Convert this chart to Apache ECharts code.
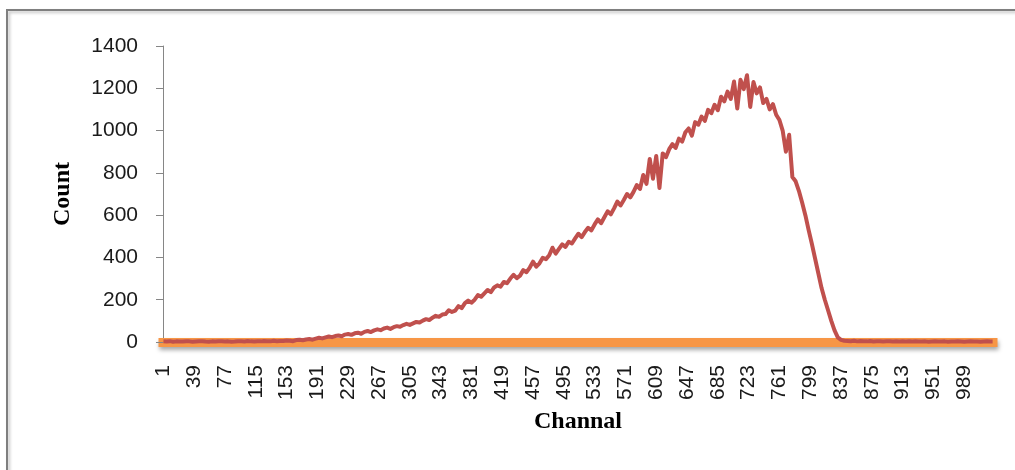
<!DOCTYPE html>
<html>
<head>
<meta charset="utf-8">
<script src="https://cdn.jsdelivr.net/npm/echarts@6/dist/echarts.min.js"></script>
<style>
  html, body { margin: 0; padding: 0; background: #ffffff; }
  #chart { width: 1015px; height: 470px; }
</style>
</head>
<body>
<div id="chart"></div>
<script>
// Spectrum channels 1..1024 (category axis)
const channels = [];
for (let c = 1; c <= 1024; c++) channels.push(String(c));

// Channels at which the count was recorded (every 4th channel, plus the last one)
const sampleChannels = [];
for (let c = 1; c <= 1021; c += 4) sampleChannels.push(c);
sampleChannels.push(1024);

// Counts per sampled channel
const counts = [
  // channels 1 - 145
  3, 2, 4, 1, 3, 2, 2, 4, 3, 1, 2, 3, 4, 2, 1, 3, 2, 4, 3, 2,
  3, 1, 2, 4, 3, 2, 5, 3, 2, 4, 3, 5, 4, 3, 6, 4, 5,
  // channels 149 - 345
  5, 7, 6, 4, 9, 11, 8, 12, 14, 11,
  16, 20, 17, 22, 26, 23, 28, 31, 27, 35,
  38, 34, 41, 44, 39, 48, 52, 47, 55, 60,
  56, 64, 68, 62, 70, 75, 72, 80, 86, 81,
  88, 95, 92, 101, 108, 104, 115, 124, 119, 130,
  // channels 349 - 445
  132, 150, 142, 148, 170, 160, 184, 196, 186, 200, 222, 214, 230,
  246, 236, 258, 268, 262, 284, 278, 300, 318, 302, 314, 340,
  // channels 449 - 545
  330, 352, 380, 356, 372, 398, 392, 410, 446, 418, 440, 462, 450,
  474, 466, 490, 512, 496, 520, 540, 528, 556, 580, 562, 590,
  // channels 549 - 645
  618, 604, 632, 664, 646, 672, 700, 684, 710, 742, 724, 790, 748,
  866, 772, 880, 728, 892, 874, 912, 936, 918, 962, 948, 992,
  // channels 649 - 745
  1010, 976, 1040, 1028, 1066, 1046, 1098, 1082, 1122, 1096, 1160, 1138, 1184,
  1150, 1232, 1104, 1240, 1196, 1262, 1112, 1230, 1176, 1204, 1130, 1150,
  // channels 749 - 845
  1100, 1125, 1075, 1050, 1000, 900, 980, 780, 760, 715, 660, 600, 530,
  465, 395, 325, 255, 200, 150, 100, 55, 22, 10, 6, 5,
  // channels 849 - 1021
  4, 6, 3, 5, 4, 3, 5, 2, 4, 3, 2, 3, 4, 2, 3, 2, 3, 2, 4, 2,
  3, 2, 2, 3, 1, 2, 3, 2, 2, 3, 1, 2, 2, 3, 2, 1, 2, 3, 2, 2,
  1, 2, 3, 2,
  // channel 1024
  2
];

const spectrum = sampleChannels.map((c, i) => [String(c), counts[i]]);

const chart = echarts.init(document.getElementById('chart'), null, { renderer: 'canvas' });

chart.setOption({
  backgroundColor: '#ffffff',
  animation: false,
  graphic: [{
    type: 'rect',
    shape: { x: 7, y: 10, width: 1030, height: 490 },
    style: {
      fill: 'none',
      stroke: '#7f7f7f',
      lineWidth: 2,
      shadowColor: 'rgba(0,0,0,0.25)',
      shadowBlur: 3,
      shadowOffsetX: 2,
      shadowOffsetY: 2
    },
    z: 0
  }],
  grid: { left: 163, right: 22, top: 46, bottom: 128, containLabel: false },
  xAxis: {
    type: 'category',
    data: channels,
    boundaryGap: true,
    offset: 4,
    name: 'Channal',
    nameLocation: 'middle',
    nameGap: 64,
    nameTextStyle: {
      fontFamily: 'Liberation Serif',
      fontWeight: 'bold',
      fontSize: 24,
      color: '#000000'
    },
    axisLine: {
      show: true,
      lineStyle: {
        color: '#F79646',
        width: 9,
        cap: 'square',
        shadowColor: 'rgba(0,0,0,0.35)',
        shadowBlur: 4,
        shadowOffsetX: 1,
        shadowOffsetY: 3
      }
    },
    axisTick: { show: false },
    axisLabel: {
      interval: 37,
      rotate: 90,
      margin: 19,
      fontFamily: 'Liberation Sans',
      fontSize: 21,
      color: '#1a1a1a'
    },
    splitLine: { show: false }
  },
  yAxis: {
    type: 'value',
    min: 0,
    max: 1400,
    interval: 200,
    name: 'Count',
    nameLocation: 'middle',
    nameGap: 88,
    nameTextStyle: {
      fontFamily: 'Liberation Serif',
      fontWeight: 'bold',
      fontSize: 24,
      color: '#000000'
    },
    axisLine: { show: true, lineStyle: { color: '#868686', width: 1 } },
    axisTick: { show: true, length: 7, lineStyle: { color: '#868686' } },
    axisLabel: {
      margin: 25,
      fontFamily: 'Liberation Sans',
      fontSize: 21,
      color: '#1a1a1a',
      formatter: (v) => String(v)
    },
    splitLine: { show: false }
  },
  series: [{
    type: 'line',
    data: spectrum,
    showSymbol: false,
    symbol: 'none',
    lineStyle: { color: '#C0504D', width: 4, join: 'round' },
    itemStyle: { color: '#C0504D' },
    z: 3
  }]
});
</script>
</body>
</html>
